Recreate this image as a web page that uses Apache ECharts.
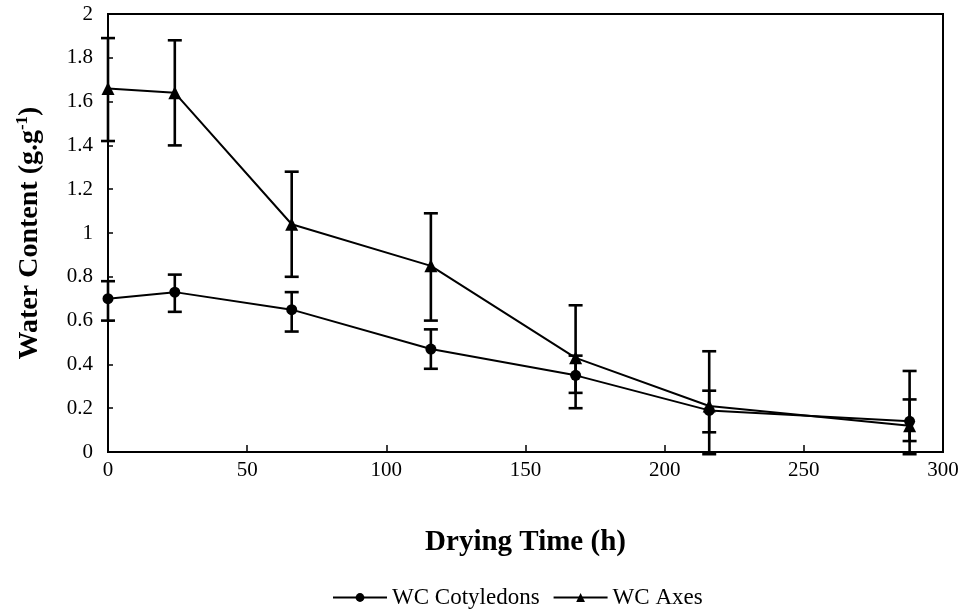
<!DOCTYPE html>
<html>
<head>
<meta charset="utf-8">
<script src="https://cdn.jsdelivr.net/npm/echarts@6/dist/echarts.min.js"></script>
<style>
  html, body { margin: 0; padding: 0; background: #fff; }
  #chart { width: 962px; height: 611px; }
</style>
</head>
<body>
<div id="chart"></div>
<script>
// Drying time (h)
const dryingTime = [0, 24, 66, 116, 168, 216, 288];

// Water content of cotyledons (g/g) with error bar ends
const cotyledons = [0.70, 0.73, 0.65, 0.47, 0.35, 0.19, 0.14];
const cotyledonsHigh = [0.78, 0.81, 0.73, 0.56, 0.44, 0.28, 0.24];
const cotyledonsLow = [0.60, 0.64, 0.55, 0.38, 0.27, 0.09, 0.05];

// Water content of embryonic axes (g/g) with error bar ends
const axes = [1.66, 1.64, 1.04, 0.85, 0.43, 0.21, 0.12];
const axesHigh = [1.89, 1.88, 1.28, 1.09, 0.67, 0.46, 0.37];
const axesLow = [1.42, 1.40, 0.80, 0.60, 0.20, -0.01, -0.01];

const yTicks = ['0', '0.2', '0.4', '0.6', '0.8', '1', '1.2', '1.4', '1.6', '1.8', '2'];

const serif = '"Liberation Serif", "DejaVu Serif", serif';

function pairs(xs, ys) { return xs.map((x, i) => [x, ys[i]]); }
function bars(xs, lo, hi) { return xs.map((x, i) => [x, lo[i], hi[i]]); }

function errorBarItem(params, api) {
  const x = api.value(0);
  const top = api.coord([x, api.value(2)]);
  const bot = api.coord([x, api.value(1)]);
  const half = 7;
  const style = { stroke: '#000', lineWidth: 2.6, fill: null };
  return {
    type: 'group',
    children: [
      { type: 'line', shape: { x1: top[0], y1: top[1], x2: bot[0], y2: bot[1] }, style },
      { type: 'line', shape: { x1: top[0] - half, y1: top[1], x2: top[0] + half, y2: top[1] }, style },
      { type: 'line', shape: { x1: bot[0] - half, y1: bot[1], x2: bot[0] + half, y2: bot[1] }, style }
    ]
  };
}

const chart = echarts.init(document.getElementById('chart'), null, { renderer: 'canvas' });

chart.setOption({
  backgroundColor: '#fff',
  animation: false,
  grid: {
    left: 108, top: 14, right: 19, bottom: 159,
    show: true, borderColor: '#000', borderWidth: 2, backgroundColor: 'transparent'
  },
  xAxis: {
    type: 'value', min: 0, max: 300, interval: 50,
    name: 'Drying Time (h)', nameLocation: 'middle', nameGap: 76,
    nameTextStyle: { fontFamily: serif, fontSize: 29, fontWeight: 'bold', color: '#000' },
    axisLine: { show: true, lineStyle: { color: '#000', width: 2 } },
    axisTick: { show: true, inside: true, length: 7, lineStyle: { color: '#000', width: 1.5 } },
    axisLabel: { fontFamily: serif, fontSize: 21, color: '#000', margin: 8 },
    splitLine: { show: false }
  },
  yAxis: {
    type: 'value', min: 0, max: 2, interval: 0.2,
    name: 'Water Content (g.g{sup|-1})', nameLocation: 'middle', nameGap: 63,
    nameTextStyle: {
      fontFamily: serif, fontSize: 28, fontWeight: 'bold', color: '#000',
      rich: { sup: { fontFamily: serif, fontSize: 17, fontWeight: 'bold', color: '#000', verticalAlign: 'top', padding: [0, 0, 14, 0] } }
    },
    axisLine: { show: true, lineStyle: { color: '#000', width: 2 } },
    axisTick: { show: true, inside: true, length: 5, lineStyle: { color: '#000', width: 1.5 } },
    axisLabel: {
      fontFamily: serif, fontSize: 21, color: '#000', margin: 15,
      formatter: (v) => yTicks[Math.round(v * 5)]
    },
    splitLine: { show: false }
  },
  legend: {
    bottom: -3, left: 327, itemWidth: 54, itemHeight: 11, itemGap: 13,
    textStyle: { fontFamily: serif, fontSize: 23, color: '#000' },
    data: ['WC Cotyledons', 'WC Axes']
  },
  series: [
    {
      name: 'WC Cotyledons', type: 'line', data: pairs(dryingTime, cotyledons),
      symbol: 'circle', symbolSize: 11, z: 3,
      lineStyle: { color: '#000', width: 2 }, itemStyle: { color: '#000' }
    },
    {
      name: 'WC Axes', type: 'line', data: pairs(dryingTime, axes),
      symbol: 'triangle', symbolSize: 13, z: 3,
      lineStyle: { color: '#000', width: 2 }, itemStyle: { color: '#000' }
    },
    {
      type: 'custom', data: bars(dryingTime, cotyledonsLow, cotyledonsHigh),
      renderItem: errorBarItem, clip: false, z: 2, silent: true
    },
    {
      type: 'custom', data: bars(dryingTime, axesLow, axesHigh),
      renderItem: errorBarItem, clip: false, z: 2, silent: true
    }
  ]
});
</script>
</body>
</html>
